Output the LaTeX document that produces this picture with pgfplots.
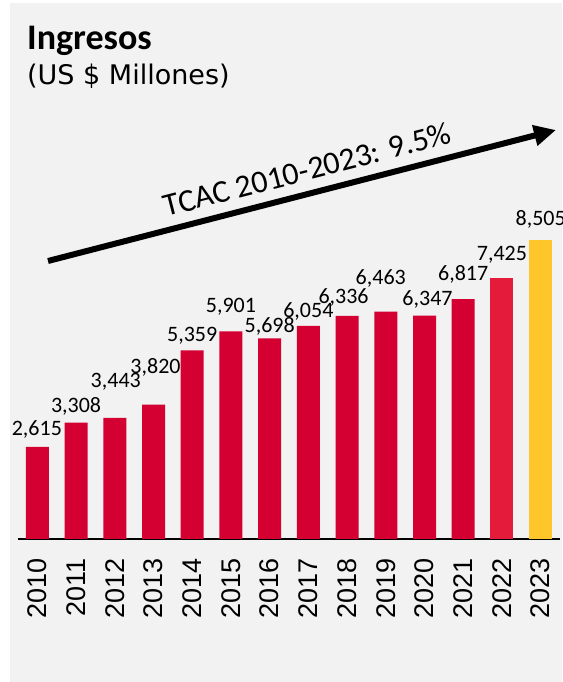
\documentclass[border=0pt]{standalone}
\usepackage{fontspec}
\usepackage{pgfplots}
\usepackage{pgfplotstable}
\pgfplotsset{compat=1.18}
\usetikzlibrary{arrows.meta}
\setmainfont{Carlito}
\newfontfamily\carlito{Carlito}
\newfontfamily\dejavu{DejaVu Sans}
\newfontfamily\libsans{Liberation Sans}
\definecolor{bg}{HTML}{F2F2F2}
\definecolor{barred}{RGB}{213,0,50}
\definecolor{barred2}{RGB}{228,27,58}
\definecolor{baryel}{RGB}{255,198,44}

\pgfplotstableread{
x y
0 2615
1 3308
2 3443
3 3820
4 5359
5 5901
6 5698
7 6054
8 6336
9 6463
10 6347
11 6817
}\mainbars
\pgfplotstableread{
x y
12 7425
}\bartwo
\pgfplotstableread{
x y
13 8505
}\barthree

\begin{document}
\begin{tikzpicture}[x=1pt,y=1pt,
  lbl/.style={anchor=base, inner sep=0pt, font=\fontsize{22}{22}\selectfont\carlito}]
\path[use as bounding box] (0,0) rectangle (562,682);
\clip (0,0) rectangle (562,682);
\fill[white] (0,0) rectangle (562,682);
\fill[bg] (10,0) rectangle (562,679);
\node[anchor=base west, inner sep=0pt, font=\fontsize{36}{40}\selectfont\bfseries] at (27,632) {Ingresos};
\node[anchor=base west, inner sep=0pt, font=\fontsize{27}{30}\selectfont\dejavu] at (27,597) {(US \$ Millones)};
\begin{axis}[at={(18pt,143pt)}, anchor=south west, scale only axis,
  width=542pt, height=316.8pt,
  xmin=-0.5, xmax=13.5, ymin=0, ymax=9000,
  hide y axis, axis x line=bottom,
  axis line style={-, line width=2.6pt, black},
  xtick={0,1,2,3,4,5,6,7,8,9,10,11,12,13},
  xticklabels={2010,2011,2012,2013,2014,2015,2016,2017,2018,2019,2020,2021,2022,2023},
  major tick length=0pt,
  xticklabel style={rotate=90, anchor=east, inner sep=0pt, inner xsep=19pt, font=\fontsize{27}{27}\selectfont\libsans},
  ybar, bar width=23pt, bar shift=0pt, clip=false]
\addplot[fill=barred, draw=none] table {\mainbars};
\addplot[fill=barred2, draw=none] table {\bartwo};
\addplot[fill=baryel, draw=none] table {\barthree};
\node[lbl, xshift=-0.5pt, yshift=11pt] at (axis cs:0,2615) {2,615};
\node[lbl, yshift=10pt] at (axis cs:1,3308) {3,308};
\node[lbl, xshift=1pt, yshift=30pt] at (axis cs:2,3443) {3,443};
\node[lbl, xshift=2pt, yshift=31pt] at (axis cs:3,3820) {3,820};
\node[lbl, yshift=9pt] at (axis cs:4,5359) {5,359};
\node[lbl, yshift=19pt] at (axis cs:5,5901) {5,901};
\node[lbl, yshift=6pt] at (axis cs:6,5698) {5,698};
\node[lbl, yshift=8pt] at (axis cs:7,6054) {6,054};
\node[lbl, xshift=-3.5pt, yshift=12pt] at (axis cs:8,6336) {6,336};
\node[lbl, xshift=-5pt, yshift=27pt] at (axis cs:9,6463) {6,463};
\node[lbl, xshift=3pt, yshift=10pt] at (axis cs:10,6347) {6,347};
\node[lbl, yshift=19pt] at (axis cs:11,6817) {6,817};
\node[lbl, yshift=17pt] at (axis cs:12,7425) {7,425};
\node[lbl, yshift=14pt] at (axis cs:13,8505) {8,505};
\end{axis}
\draw[line width=6pt, -{Triangle[length=22pt,width=20pt]}] (48,421) -- (556,552);
\node[anchor=base, rotate=14.46, inner sep=0pt, font=\fontsize{32}{32}\selectfont\carlito] at (309.75,502) {TCAC 2010-2023: 9.5\%};
\end{tikzpicture}
\end{document}
